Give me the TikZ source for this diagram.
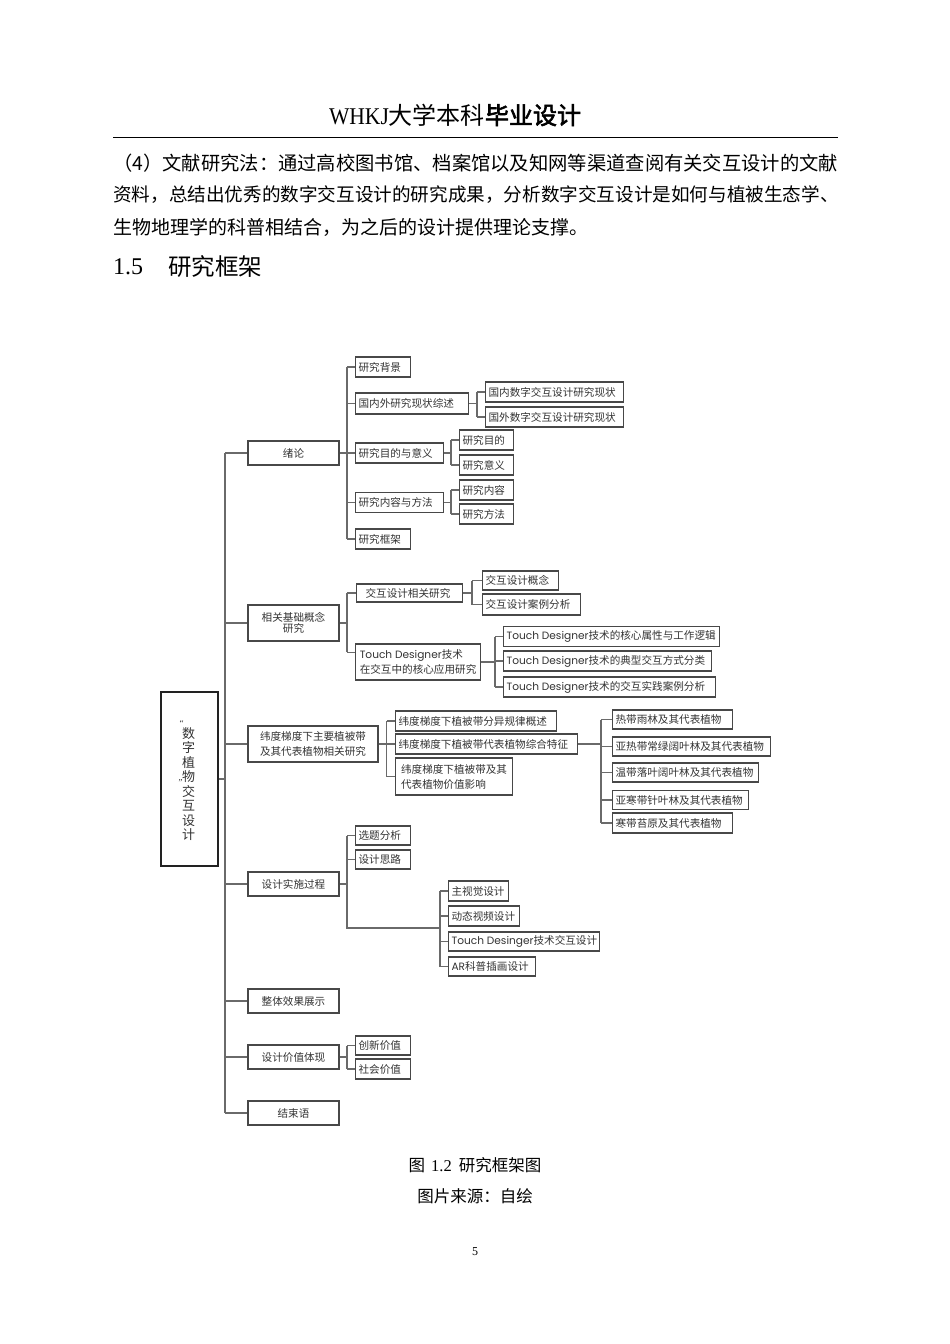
\documentclass[tikz,border=0pt]{standalone}
\usepackage{fontspec}
\setmainfont{Liberation Serif}
\newfontfamily\cjk{Noto Sans CJK SC}
\newfontfamily\cjkb[FakeBold=2.5]{Noto Sans CJK SC}
\newfontfamily\pop{Poppins}
\newfontfamily\hdrserif[FakeStretch=0.9]{Liberation Serif}
\definecolor{boxc}{HTML}{484848}
\definecolor{linec}{HTML}{6A6A6A}
\definecolor{txtc}{HTML}{333333}
\definecolor{rootc}{HTML}{222222}
\newcommand\TDn{{\pop Touch Designer}}
\newcommand\TDt{{\pop Touch Desinger}}
\newcommand\lb[2]{\makebox[\dimexpr#1pt-6pt\relax][l]{#2}}
\begin{document}
\begin{tikzpicture}[x=1pt,y=-1pt,
  box/.style={draw=boxc, line width=1.1pt, inner xsep=3pt, inner ysep=0pt, text=txtc,
              font=\cjk\fontsize{10.6}{15}\selectfont},
  conn/.style={draw=linec, line width=1.1pt},
  lvone/.style={box, minimum width=91pt, minimum height=24pt, align=center},
  leaf/.style={box, anchor=west, minimum height=20pt},
  ptext/.style={anchor=west, inner sep=0pt, text=black},
]
\useasboundingbox[fill=white] (0,0) rectangle (950,1344);

% ---------- page header and text ----------
\node[inner sep=0pt, font=\fontsize{24}{24}\selectfont] (hdr) at (455,115)
  {{\hdrserif WHKJ}{\cjk 大学本科}{\cjkb 毕业设计}};
\coordinate (hl) at (113,137);
\coordinate (hr) at (838,137);
\draw[line width=1pt] (hl) -- (hr);

\node[ptext, font=\cjk\fontsize{19.3}{20}\selectfont] (p1) at (113,163)
  {（4）文献研究法：通过高校图书馆、档案馆以及知网等渠道查阅有关交互设计的文献};
\node[ptext, font=\cjk\fontsize{18.6}{20}\selectfont] (p2) at (113,195)
  {资料，总结出优秀的数字交互设计的研究成果，分析数字交互设计是如何与植被生态学、};
\node[ptext, font=\cjk\fontsize{19}{20}\selectfont] (p3) at (113,227)
  {生物地理学的科普相结合，为之后的设计提供理论支撑。};

\node[ptext, font=\fontsize{24}{24}\selectfont] (secn) at (113,267) {1.5};
\node[ptext, font=\cjk\fontsize{23.5}{24}\selectfont] (sect) at (168,267) {研究框架};

% ---------- root ----------
\node[draw=rootc, line width=1.8pt, minimum width=57pt, minimum height=174pt, inner sep=0pt] (root) at (189.5,779) {};
\node[text=txtc, font=\cjk\fontsize{13}{14.5}\selectfont, align=center, inner sep=0pt] (rtxt) at (188.5,784)
  {数\\字\\植\\物\\交\\互\\设\\计};
\node[text=txtc, font=\fontsize{9}{9}\selectfont, inner sep=0pt] (q1) at (181.5,723) {“};
\node[text=txtc, font=\fontsize{9}{9}\selectfont, inner sep=0pt] (q2) at (180.5,782) {”};

% ---------- level 1 ----------
\node[lvone] (n1) at (293.5,453) {绪论};
\node[lvone, minimum height=36pt] (n2) at (293.5,623) {相关基础概念\\[-4pt]研究};
\node[lvone, minimum width=130pt, minimum height=36pt] (n3) at (313,744) {纬度梯度下主要植被带\\及其代表植物相关研究};
\node[lvone] (n4) at (293.5,884) {设计实施过程};
\node[lvone] (n5) at (293.5,1001) {整体效果展示};
\node[lvone] (n6) at (293.5,1057) {设计价值体现};
\node[lvone] (n7) at (293.5,1113) {结束语};

% ---------- 绪论 ----------
\node[leaf] (a1) at (355,367) {\lb{55}{研究背景}};
\node[leaf, minimum height=21pt] (a2) at (355,403.5) {\lb{113}{国内外研究现状综述}};
\node[leaf] (a3) at (355,453) {\lb{88}{研究目的与意义}};
\node[leaf] (a4) at (355,502.5) {\lb{88}{研究内容与方法}};
\node[leaf] (a5) at (355,539) {\lb{55}{研究框架}};
\node[leaf] (b1) at (485,392) {\lb{138}{国内数字交互设计研究现状}};
\node[leaf] (b2) at (485,417) {\lb{138}{国外数字交互设计研究现状}};
\node[leaf] (c1) at (459,440) {\lb{54}{研究目的}};
\node[leaf] (c2) at (459,465) {\lb{54}{研究意义}};
\node[leaf] (c3) at (459,490) {\lb{54}{研究内容}};
\node[leaf] (c4) at (459,514) {\lb{54}{研究方法}};

% ---------- 相关基础概念研究 ----------
\node[leaf, minimum height=18pt] (d1) at (356,593) {\hspace{6pt}\lb{100}{交互设计相关研究}};
\node[box, anchor=west, minimum width=125pt, minimum height=36pt, align=left] (d2) at (355,662)
  {\TDn 技术\\在交互中的核心应用研究};
\node[leaf, minimum height=19pt] (e1) at (482,580.5) {\lb{76}{交互设计概念}};
\node[leaf, minimum height=21pt] (e2) at (482,604.5) {\lb{98}{交互设计案例分析}};
\node[leaf] (f1) at (503,636.5) {\lb{216}{\TDn 技术的核心属性与工作逻辑}};
\node[leaf] (f2) at (503,661) {\lb{208}{\TDn 技术的典型交互方式分类}};
\node[leaf] (f3) at (503,687) {\lb{212}{\TDn 技术的交互实践案例分析}};

% ---------- 纬度梯度 ----------
\node[leaf] (g1) at (395,721) {\lb{161}{纬度梯度下植被带分异规律概述}};
\node[leaf] (g2) at (395,744) {\lb{182}{纬度梯度下植被带代表植物综合特征}};
\node[box, anchor=west, minimum width=117pt, minimum height=37pt, align=left] (g3) at (395,776.5)
  {纬度梯度下植被带及其\\代表植物价值影响};
\node[leaf, minimum height=19pt] (h1) at (612,719.5) {\lb{120}{热带雨林及其代表植物}};
\node[leaf, minimum height=19pt] (h2) at (612,746.5) {\lb{158}{亚热带常绿阔叶林及其代表植物}};
\node[leaf, minimum height=19pt] (h3) at (612,772.5) {\lb{146}{温带落叶阔叶林及其代表植物}};
\node[leaf, minimum height=19pt] (h4) at (612,800) {\lb{136}{亚寒带针叶林及其代表植物}};
\node[leaf] (h5) at (612,823) {\lb{120}{寒带苔原及其代表植物}};

% ---------- 设计实施过程 ----------
\node[leaf, minimum height=19pt] (i1) at (355,835.5) {\lb{55}{选题分析}};
\node[leaf, minimum height=19pt] (i2) at (355,859.5) {\lb{55}{设计思路}};
\node[leaf] (j1) at (448,891) {\lb{60}{主视觉设计}};
\node[leaf] (j2) at (448,916) {\lb{71}{动态视频设计}};
\node[leaf, minimum height=19pt] (j3) at (448,941.5) {\lb{151}{\TDt 技术交互设计}};
\node[leaf, minimum height=19pt] (j4) at (448,966.5) {\lb{87}{{\pop AR}科普插画设计}};

% ---------- 设计价值体现 ----------
\node[leaf, minimum height=19pt] (k1) at (355,1045.5) {\lb{55}{创新价值}};
\node[leaf] (k2) at (355,1069) {\lb{55}{社会价值}};

% ---------- caption ----------
\node[inner sep=0pt, font=\fontsize{16.5}{17}\selectfont] (cap1) at (475,1165)
  {{\cjk 图}\hspace{6pt}1.2\hspace{7pt}{\cjk 研究框架图}};
\node[inner sep=0pt, font=\cjk\fontsize{16.5}{17}\selectfont] (cap2) at (475,1196) {图片来源：自绘};
\node[inner sep=0pt, font=\fontsize{12}{12}\selectfont] (pg) at (475,1252) {5};

% ---------- connectors ----------
\coordinate (T) at (225,0);
\coordinate (B) at (347,0);
\coordinate (Ba) at (477,0);
\coordinate (Bc) at (451,0);
\coordinate (Bd) at (472,0);
\coordinate (Bf) at (495,0);
\coordinate (Bg) at (386.5,0);
\coordinate (Bh) at (601,0);
\coordinate (J) at (440,928);
\coordinate (d2in) at ([yshift=-9pt]d2.north west);

\draw[conn] (root.east) -- (root.east -| T);
\draw[conn] (n1.west -| T) -- (n7.west -| T);
\foreach \n in {n1,n2,n3,n4,n5,n6,n7} \draw[conn] (\n.west) -- (\n.west -| T);

% 绪论
\draw[conn] (n1.east) -- (n1.east -| B);
\draw[conn] (a1.west -| B) -- (a5.west -| B);
\foreach \n in {a1,a2,a3,a4,a5} \draw[conn] (\n.west) -- (\n.west -| B);
\draw[conn] (a2.east) -- (a2.east -| Ba);
\draw[conn] (b1.west -| Ba) -- (b2.west -| Ba);
\foreach \n in {b1,b2} \draw[conn] (\n.west) -- (\n.west -| Ba);
\draw[conn] (a3.east) -- (a3.east -| Bc);
\draw[conn] (c1.west -| Bc) -- (c2.west -| Bc);
\draw[conn] (a4.east) -- (a4.east -| Bc);
\draw[conn] (c3.west -| Bc) -- (c4.west -| Bc);
\foreach \n in {c1,c2,c3,c4} \draw[conn] (\n.west) -- (\n.west -| Bc);

% 相关基础概念研究
\draw[conn] (n2.east) -- (n2.east -| B);
\draw[conn] (d1.west -| B) -- (d2in -| B);
\draw[conn] (d1.west) -- (d1.west -| B);
\draw[conn] (d2in) -- (d2in -| B);
\draw[conn] (d1.east) -- (d1.east -| Bd);
\draw[conn] (e1.west -| Bd) -- (e2.west -| Bd);
\foreach \n in {e1,e2} \draw[conn] (\n.west) -- (\n.west -| Bd);
\draw[conn] (d2.east) -- (d2.east -| Bf);
\draw[conn] (f1.west -| Bf) -- (f3.west -| Bf);
\foreach \n in {f1,f2,f3} \draw[conn] (\n.west) -- (\n.west -| Bf);

% 纬度梯度
\draw[conn] (n3.east) -- (n3.east -| Bg);
\draw[conn] (g1.west -| Bg) -- (g3.west -| Bg);
\foreach \n in {g1,g2,g3} \draw[conn] (\n.west) -- (\n.west -| Bg);
\draw[conn] (g2.east) -- (g2.east -| Bh);
\draw[conn] (h1.west -| Bh) -- (h5.west -| Bh);
\foreach \n in {h1,h2,h3,h4,h5} \draw[conn] (\n.west) -- (\n.west -| Bh);

% 设计实施过程
\draw[conn] (n4.east) -- (n4.east -| B);
\draw[conn] (i1.west -| B) -- (J -| B) -- (J);
\foreach \n in {i1,i2} \draw[conn] (\n.west) -- (\n.west -| B);
\draw[conn] (j1.west -| J) -- (j4.west -| J);
\foreach \n in {j1,j2,j3,j4} \draw[conn] (\n.west) -- (\n.west -| J);

% 设计价值体现
\draw[conn] (n6.east) -- (n6.east -| B);
\draw[conn] (k1.west -| B) -- (k2.west -| B);
\foreach \n in {k1,k2} \draw[conn] (\n.west) -- (\n.west -| B);
\end{tikzpicture}
\end{document}
